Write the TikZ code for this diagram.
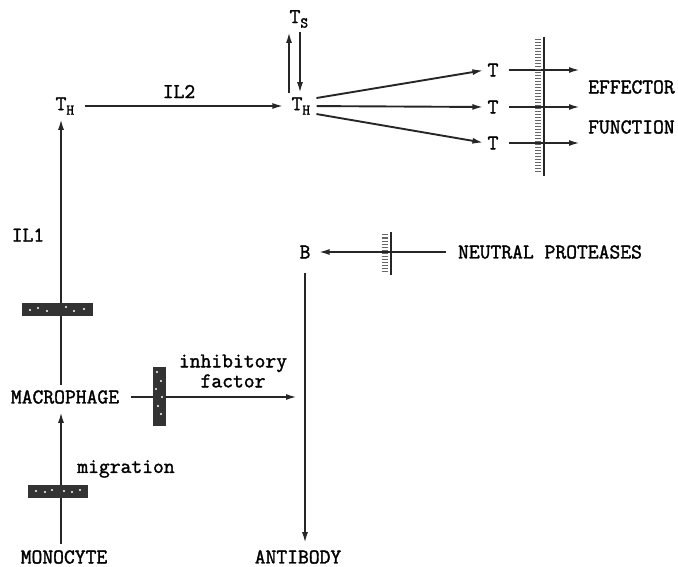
\documentclass[tikz,border=0pt]{standalone}
\usepackage{fontspec}
\newfontfamily\dotfont{Latin Modern Mono}[FakeBold=1.6]
\usepackage{tikz}
\usetikzlibrary{arrows.meta}

\tikzset{
  lbl/.style={font=\dotfont\fontsize{21}{20}\selectfont, inner sep=2pt},
  flow/.style={line width=1.9pt, draw=black!85, -{Latex[length=11pt,width=6pt]}},
  wall/.style={line width=2.4pt, draw=black!85},
  hatch/.style={line width=1pt, draw=black!60},
  blob/.style={fill=black!80}
}
\newcommand{\cellname}[2]{#1\rlap{\raisebox{-0.5ex}{\fontsize{15}{15}\selectfont #2}}}

\begin{document}
\begin{tikzpicture}[x=1pt,y=-1pt]
    \useasboundingbox (0,0) rectangle (678,567);

    % Cells and labels
    \node[lbl] (thl) at (61,106) {\cellname{T}{H}};
    \node[lbl] (thr) at (297,106) {\cellname{T}{H}};
    \node[lbl] (ts) at (295,19) {\cellname{T}{S}};
    \foreach \i/\y in {1/70,2/107,3/143}
        \node[lbl] (t\i) at (493,\y) {T};
    \node[lbl, anchor=west] (eff) at (586,87) {EFFECTOR};
    \node[lbl, anchor=west] (fun) at (586,127) {FUNCTION};
    \node[lbl] (il1) at (28,235) {IL1};
    \node[lbl] (b) at (305,252) {B};
    \node[lbl] (neut) at (550,252) {NEUTRAL PROTEASES};
    \node[lbl] (macro) at (65,397) {MACROPHAGE};
    \node[lbl, align=center] (inhib) at (233,371) {inhibitory\\factor};
    \node[lbl] (migr) at (126,469) {migration};
    \node[lbl] (mono) at (64,557) {MONOCYTE};
    \node[lbl] (anti) at (298,557) {ANTIBODY};

    % T helper pathway
    \draw[flow, shorten <=16pt, shorten >=6pt] (thl.east) -- node[lbl, above=5pt] (il2) {IL2} (thr.west);
    \draw[flow, shorten <=2pt, shorten >=2pt] ([xshift=-8pt]thr.north) -- ([xshift=-6pt]ts.south);
    \draw[flow, shorten <=2pt, shorten >=2pt] ([xshift=5pt]ts.south) -- ([xshift=3pt]thr.north);
    \foreach \i/\dy in {1/6,2/0,3/-6}
        \draw[flow, shorten <=12pt, shorten >=2pt] ([yshift=\dy pt]thr.east) -- (t\i.west);

    % Effector membrane
    \foreach \i/\y in {1/70,2/107,3/143} {
        \coordinate (o\i) at (580,\y);
        \draw[flow, shorten <=8pt] (t\i.east) -- (o\i);
    }
    \foreach \y in {40,43,...,174}
        \draw[hatch] (535,\y) -- (541,\y);
    \draw[wall] (544,37) -- (544,176);

    % B cell
    \foreach \y in {235,238,...,272}
        \draw[hatch] (382,\y) -- (388,\y);
    \draw[wall] (391,232) -- (391,275);
    \draw[flow, shorten >=6pt] ([xshift=-10pt]neut.west) -- (b.east);
    \draw[flow, shorten <=12pt, shorten >=5pt] (b.south) -- (b |- anti.north);

    % Macrophage pathway
    \draw[flow, shorten <=3pt, shorten >=2pt] (thl |- macro.north) -- (thl.south);
    \draw[flow, shorten <=4pt, shorten >=6pt] (thl |- mono.north) -- (thl |- macro.south);
    \draw[flow, shorten <=10pt, shorten >=8pt] (macro.east) -- (macro.east -| b);

    % Blocked steps
    \fill[blob] (22,303) rectangle (93,316);
    \fill[blob] (153,367) rectangle (166,426);
    \fill[blob] (28,485) rectangle (88,498);
    \foreach \x/\y in {30/310,38/308,47/311,66/307,74/311,84/309,
                       157/372,161/381,156/389,162/397,158/406,161/414,
                       36/491,45/492,52/490,64/491,72/492,80/490}
        \fill[white] (\x,\y) circle (1.1pt);
\end{tikzpicture}
\end{document}
